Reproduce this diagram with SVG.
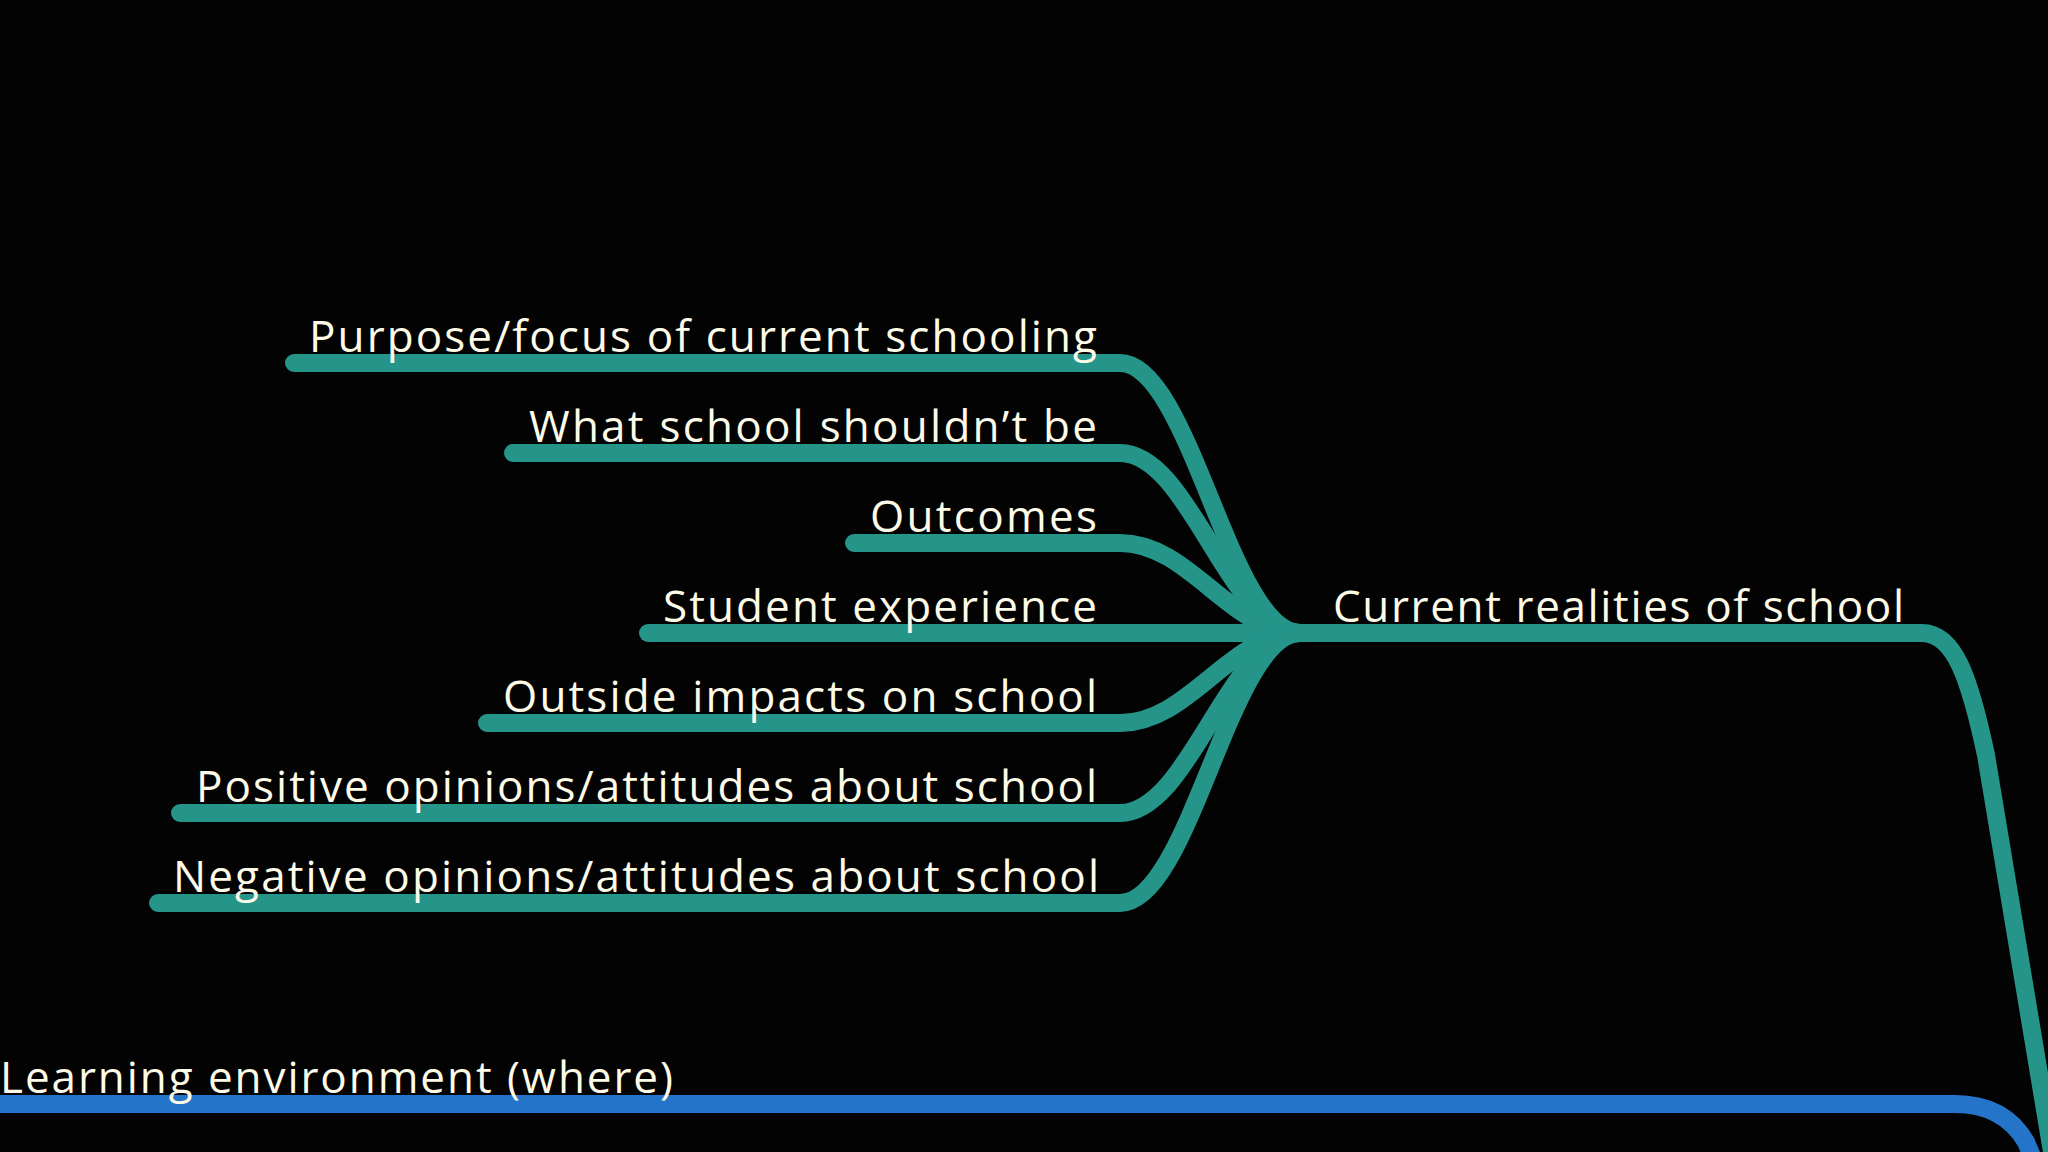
<svg xmlns="http://www.w3.org/2000/svg" width="2048" height="1152" viewBox="0 0 2048 1152">
<style>
.bg{fill:#030303}
.teal{fill:none;stroke:#25958A;stroke-width:18;stroke-linecap:round;stroke-linejoin:round}
.blue{fill:none;stroke:#2475C9;stroke-width:18;stroke-linecap:round;stroke-linejoin:round}
.lbl{font-family:"Open Sans","Liberation Sans",sans-serif;font-size:44px;font-weight:400;fill:#FDFBE8}
.end{text-anchor:end}
</style>
<rect class="bg" x="0" y="0" width="2048" height="1152"/>
<g id="connectors">
<path class="teal" d="M1300,633 C1230,633 1190,363 1120,363 L294,363"/>
<path class="teal" d="M1300,633 C1230,633 1190,453 1120,453 L513,453"/>
<path class="teal" d="M1300,633 C1230,633 1190,543 1120,543 L854,543"/>
<path class="teal" d="M1300,633 L648,633"/>
<path class="teal" d="M1300,633 C1230,633 1190,723 1120,723 L487,723"/>
<path class="teal" d="M1300,633 C1230,633 1190,813 1120,813 L180,813"/>
<path class="teal" d="M1300,633 C1230,633 1190,903 1120,903 L158,903"/>
<path class="teal" d="M1290,633 L1922,633 C1955,633 1970,680 1986,755 L2065,1230"/>
<path class="blue" d="M-20,1104 L1955,1104 C1990,1104 2012,1118 2026,1142 L2040,1175"/>
</g>
<g id="node-root"><text class="lbl" x="1333" y="622" textLength="571" lengthAdjust="spacing">Current realities of school</text></g>
<g id="node-purpose"><text class="lbl end" x="1097" y="352" textLength="788" lengthAdjust="spacing">Purpose/focus of current schooling</text></g>
<g id="node-shouldnt"><text class="lbl end" x="1097" y="442" textLength="568" lengthAdjust="spacing">What school shouldn’t be</text></g>
<g id="node-outcomes"><text class="lbl end" x="1097" y="532" textLength="227" lengthAdjust="spacing">Outcomes</text></g>
<g id="node-student"><text class="lbl end" x="1097" y="622" textLength="434" lengthAdjust="spacing">Student experience</text></g>
<g id="node-outside"><text class="lbl end" x="1097" y="712" textLength="594" lengthAdjust="spacing">Outside impacts on school</text></g>
<g id="node-positive"><text class="lbl end" x="1097" y="802" textLength="901" lengthAdjust="spacing">Positive opinions/attitudes about school</text></g>
<g id="node-negative"><text class="lbl end" x="1099" y="892" textLength="926" lengthAdjust="spacing">Negative opinions/attitudes about school</text></g>
<g id="node-learning"><text class="lbl" x="0" y="1093" textLength="673" lengthAdjust="spacing">Learning environment (where)</text></g>
</svg>
